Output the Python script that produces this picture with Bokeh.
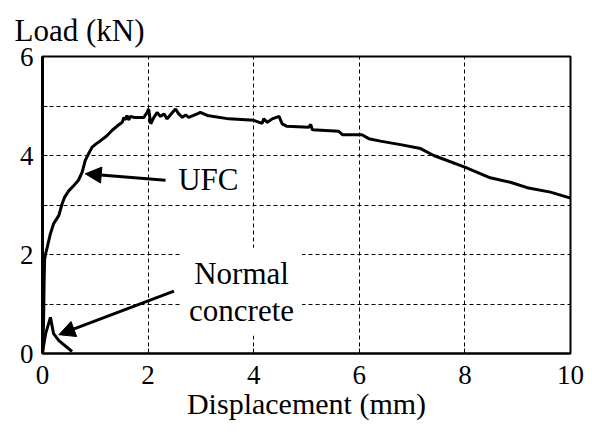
from bokeh.plotting import figure
from bokeh.models import Label, Arrow, NormalHead, FixedTicker, Range1d, Title
from bokeh.embed import file_html
from bokeh.resources import INLINE

# ---- data ----
ufc_x = [0, 0.02, 0.03, 0.04, 0.06, 0.09, 0.15, 0.21, 0.31, 0.37, 0.42, 0.5, 0.59, 0.68,
         0.75, 0.81, 0.88, 0.94, 1.02, 1.10, 1.22, 1.32, 1.42, 1.51, 1.54, 1.57, 1.6, 1.63,
         1.67, 1.73, 1.92, 1.98, 2.01, 2.05, 2.11, 2.17, 2.23, 2.3, 2.36, 2.46, 2.52, 2.58,
         2.65, 2.71, 2.77, 2.93, 2.99, 3.12, 3.53, 4.0, 4.16, 4.19, 4.26, 4.35, 4.48, 4.54,
         4.63, 5.04, 5.08, 5.11, 5.61, 5.68, 5.83, 6.05, 6.18, 6.4, 6.78, 7.16, 7.41, 8.01,
         8.48, 8.86, 9.18, 9.62, 10.0]
ufc_y = [0, 0.6, 1.4, 1.9, 2.02, 2.15, 2.42, 2.62, 2.79, 3.02, 3.16, 3.29, 3.39, 3.5,
         3.66, 3.9, 4.05, 4.17, 4.24, 4.3, 4.4, 4.51, 4.6, 4.67, 4.77, 4.72, 4.81, 4.72,
         4.79, 4.77, 4.77, 4.87, 4.94, 4.64, 4.77, 4.87, 4.79, 4.84, 4.74, 4.87, 4.94, 4.84,
         4.77, 4.82, 4.77, 4.84, 4.87, 4.81, 4.74, 4.71, 4.65, 4.74, 4.67, 4.74, 4.79, 4.64,
         4.59, 4.57, 4.63, 4.52, 4.49, 4.42, 4.42, 4.42, 4.34, 4.29, 4.22, 4.14, 4.0, 3.76,
         3.55, 3.46, 3.35, 3.26, 3.14]

nc_x = [0, 0.02, 0.06, 0.15, 0.21, 0.31, 0.56]
nc_y = [0, 0.15, 0.4, 0.73, 0.4, 0.26, 0.04]

x_ticks = [0, 2, 4, 6, 8, 10]
y_ticks = [0, 1, 2, 3, 4, 5, 6]
y_tick_labels = {0: "0", 1: "", 2: "2", 3: "", 4: "4", 5: "", 6: "6"}
x_grid = [2, 4, 6, 8]
y_grid = [1, 2, 3, 4, 5]

FONT = "Liberation Serif"

p = figure(width=592, height=432, output_backend="svg", toolbar_location=None,
           x_range=Range1d(0, 10), y_range=Range1d(0, 6),
           min_border_left=42, min_border_right=22, min_border_top=56, min_border_bottom=79)
p.background_fill_color = "white"
p.border_fill_color = "white"
p.outline_line_color = "black"
p.outline_line_width = 2

# y-axis title shown at the top-left corner, as in the reference
p.add_layout(Title(text="Load (kN)", text_font=FONT, text_font_size="31px",
                   text_font_style="normal", text_color="black", align="left",
                   offset=-28, standoff=17), "above")

p.xaxis.ticker = FixedTicker(ticks=x_ticks)
p.yaxis.ticker = FixedTicker(ticks=y_ticks)
p.yaxis.major_label_overrides = y_tick_labels
for ax in (p.xaxis, p.yaxis):
    ax.axis_line_width = 2
    ax.axis_line_color = "black"
    ax.major_tick_in = 5
    ax.major_tick_out = 0
    ax.minor_tick_line_color = None
    ax.major_label_text_font = FONT
    ax.major_label_text_font_size = "27px"
    ax.major_label_text_color = "black"
p.yaxis.axis_line_width = 3
p.xaxis.major_label_standoff = 12
p.yaxis.major_label_standoff = 9
p.xaxis.axis_label = "Displacement (mm)"
p.xaxis.axis_label_text_font = FONT
p.xaxis.axis_label_text_font_size = "30px"
p.xaxis.axis_label_text_font_style = "normal"
p.xaxis.axis_label_text_color = "black"
p.xaxis.axis_label_standoff = 0

p.xgrid.ticker = FixedTicker(ticks=x_grid)
p.ygrid.ticker = FixedTicker(ticks=y_grid)
for g in (p.xgrid, p.ygrid):
    g.grid_line_color = "black"
    g.grid_line_width = 1
    g.grid_line_dash = "4 3"

p.line(ufc_x, ufc_y, line_color="black", line_width=3)
p.line(nc_x, nc_y, line_color="black", line_width=3)

# annotations
p.add_layout(Arrow(end=NormalHead(size=16, fill_color="black", line_color="black"),
                   x_start=2.33, y_start=3.5, x_end=0.81, y_end=3.63,
                   line_color="black", line_width=3))
p.add_layout(Arrow(end=NormalHead(size=16, fill_color="black", line_color="black"),
                   x_start=2.49, y_start=1.26, x_end=0.31, y_end=0.38,
                   line_color="black", line_width=3))

p.add_layout(Label(x=3.14, y=3.52, text="UFC", text_font=FONT, text_font_size="31px",
                   text_color="black", text_align="center", text_baseline="alphabetic"))
p.add_layout(Label(x=3.77, y=1.25, text="Normal\nconcrete", text_font=FONT,
                   text_font_size="31px", text_color="black", text_align="center",
                   text_baseline="middle", text_line_height=1.05,
                   background_fill_color="white", padding=8))

open("out.html", "w").write(file_html(p, INLINE))
